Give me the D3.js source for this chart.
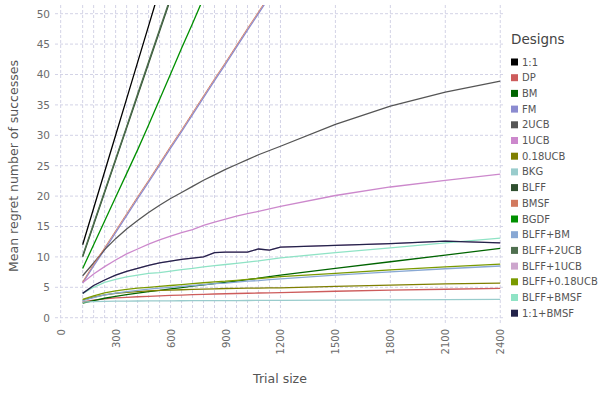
<!DOCTYPE html>
<html>
<head>
<meta charset="utf-8">
<script src="https://cdn.jsdelivr.net/npm/d3@7"></script>
<style>
  body { margin: 0; background: #fff; }
  text { font-family: "DejaVu Sans", Verdana, sans-serif; }
</style>
</head>
<body>
<script>
// trial sizes (x values)
var trialSizes = [120, 180, 240, 300, 360, 420, 480, 540, 600, 660, 720, 780, 840, 900, 960, 1020, 1080, 1140, 1200, 1500, 1800, 2100, 2400];

// mean regret per design
var oneToOne     = [12, 18, 24, 30, 36, 42, 48, 54, 60, 66, 72, 78, 84, 90, 96, 102, 108, 114, 120, 150, 180, 210, 240];
var dp           = [2.6, 2.9, 3.1, 3.25, 3.35, 3.45, 3.52, 3.6, 3.67, 3.73, 3.8, 3.85, 3.9, 3.94, 3.98, 4.02, 4.06, 4.1, 4.13, 4.35, 4.52, 4.68, 4.82];
var bm           = [2.4, 2.8, 3.2, 3.5, 3.8, 4.05, 4.3, 4.5, 4.75, 4.95, 5.2, 5.4, 5.6, 5.8, 6.0, 6.25, 6.5, 6.75, 7.0, 8.1, 9.2, 10.3, 11.4];
var fm           = [5.7, 8.5, 11.2, 14.0, 16.8, 19.6, 22.3, 25.1, 27.9, 30.6, 33.4, 36.2, 39.0, 41.7, 44.5, 47.3, 50.0, 52.8, 55.6, 69.5, 83.3, 97.2, 111.0];
var ucb2         = [6.9, 9.0, 11.2, 13.0, 14.6, 16.0, 17.3, 18.5, 19.6, 20.6, 21.6, 22.6, 23.5, 24.4, 25.2, 26.0, 26.8, 27.5, 28.2, 31.8, 34.8, 37.1, 38.9];
var ucb1         = [5.75, 7.2, 8.4, 9.5, 10.5, 11.3, 12.1, 12.8, 13.4, 14.0, 14.5, 15.2, 15.7, 16.2, 16.7, 17.1, 17.5, 17.9, 18.3, 20.1, 21.5, 22.6, 23.6];
var ucb018       = [2.9, 3.4, 3.75, 4.0, 4.15, 4.3, 4.4, 4.5, 4.55, 4.6, 4.65, 4.7, 4.75, 4.8, 4.82, 4.85, 4.88, 4.9, 4.92, 5.15, 5.35, 5.55, 5.7];
var bkg          = [2.55, 2.65, 2.7, 2.72, 2.74, 2.75, 2.76, 2.77, 2.78, 2.79, 2.8, 2.8, 2.81, 2.82, 2.82, 2.83, 2.84, 2.84, 2.85, 2.9, 2.93, 2.96, 3.0];
var blff         = [10.0, 15.3, 20.6, 25.9, 31.2, 36.5, 41.8, 47.1, 52.4, 57.7, 63.0, 68.3, 73.6, 78.9, 84.2, 89.6, 94.9, 100.2, 105.5, 132.0, 158.6, 185.1, 211.7];
var bmsf         = [5.9, 8.8, 11.5, 14.3, 17.1, 19.9, 22.6, 25.4, 28.2, 30.9, 33.7, 36.5, 39.3, 42.0, 44.8, 47.6, 50.3, 53.1, 55.9, 69.8, 83.6, 97.5, 111.3];
var bgdf         = [8.1, 12.0, 15.9, 19.8, 23.7, 27.6, 31.7, 35.9, 40.1, 44.3, 48.4, 52.6, 56.9, 61.1, 65.3, 69.5, 73.7, 77.9, 82.1, 103, 124, 145, 166];
var blffBm       = [2.8, 3.3, 3.75, 4.05, 4.3, 4.5, 4.7, 4.85, 5.0, 5.15, 5.3, 5.45, 5.6, 5.7, 5.85, 6.0, 6.1, 6.25, 6.4, 7.0, 7.55, 8.05, 8.5];
var blffUcb2     = [10.2, 15.5, 20.8, 26.1, 31.4, 36.8, 42.1, 47.4, 52.7, 58.0, 63.3, 68.6, 73.9, 79.2, 84.5, 89.9, 95.2, 100.5, 105.8, 132.3, 158.9, 185.4, 212.0];
var blffUcb1     = [4.0, 5.3, 6.2, 7.0, 7.6, 8.1, 8.6, 9.0, 9.3, 9.6, 9.8, 10.0, 10.7, 10.8, 10.8, 10.8, 11.3, 11.1, 11.6, 11.9, 12.2, 12.6, 12.3];
var blffUcb018   = [3.0, 3.6, 4.1, 4.4, 4.65, 4.85, 5.0, 5.15, 5.3, 5.45, 5.6, 5.75, 5.9, 6.0, 6.15, 6.3, 6.45, 6.6, 6.75, 7.3, 7.85, 8.35, 8.8];
var blffBmsf     = [4.0, 5.0, 5.8, 6.3, 6.7, 7.0, 7.3, 7.4, 7.65, 7.9, 8.1, 8.35, 8.55, 8.75, 8.95, 9.15, 9.35, 9.6, 9.85, 10.7, 11.5, 12.3, 13.1];
var oneToOneBmsf = [4.0, 5.3, 6.2, 7.0, 7.6, 8.1, 8.6, 9.0, 9.3, 9.6, 9.8, 10.0, 10.7, 10.8, 10.8, 10.8, 11.3, 11.1, 11.6, 11.9, 12.2, 12.6, 12.3];

var designNames = ["1:1", "DP", "BM", "FM", "2UCB", "1UCB", "0.18UCB", "BKG", "BLFF", "BMSF", "BGDF",
                   "BLFF+BM", "BLFF+2UCB", "BLFF+1UCB", "BLFF+0.18UCB", "BLFF+BMSF", "1:1+BMSF"];
var designColors = ["#000000", "#cd5c5c", "#006400", "#8b8bd0", "#555555", "#cc88cc", "#7f7f00", "#99cccc",
                    "#2f4f2f", "#d27a5f", "#009000", "#88a8d4", "#4f6f4f", "#cda6cd", "#7a9a00", "#8fe3c5", "#23234a"];
var designValues = [oneToOne, dp, bm, fm, ucb2, ucb1, ucb018, bkg, blff, bmsf, bgdf,
                    blffBm, blffUcb2, blffUcb1, blffUcb018, blffBmsf, oneToOneBmsf];

var xTicks = [0, 300, 600, 900, 1200, 1500, 1800, 2100, 2400];
var yTicks = [0, 5, 10, 15, 20, 25, 30, 35, 40, 45, 50];
var xGrid = [0].concat(trialSizes);

var width = 598, height = 399;
var plotLeft = 55, plotRight = 505, plotTop = 5, plotBottom = 325;

var svg = d3.select("body").append("svg")
    .attr("width", width)
    .attr("height", height);

var x = d3.scaleLinear().domain([-31, 2426]).range([plotLeft, plotRight]);
var y = d3.scaleLinear().domain([-1.2, 51.43]).range([plotBottom, plotTop]);

// grid
svg.append("g").selectAll("line").data(yTicks).enter().append("line")
    .attr("x1", plotLeft).attr("x2", plotRight)
    .attr("y1", function(d) { return y(d); }).attr("y2", function(d) { return y(d); })
    .attr("stroke", "#d3d3e6").attr("stroke-width", 1).attr("stroke-dasharray", "3,2");

svg.append("g").selectAll("line").data(xGrid).enter().append("line")
    .attr("x1", function(d) { return x(d); }).attr("x2", function(d) { return x(d); })
    .attr("y1", plotTop).attr("y2", plotBottom)
    .attr("stroke", "#d3d3e6").attr("stroke-width", 1).attr("stroke-dasharray", "3,2");

// axes (labels only)
var xAxis = d3.axisBottom(x).tickValues(xTicks).tickSize(0).tickPadding(0).tickFormat(d3.format("d"));
var gx = svg.append("g").attr("transform", "translate(0," + plotBottom + ")").call(xAxis);
gx.select(".domain").remove();
gx.selectAll("text")
    .attr("transform", "rotate(-90)")
    .attr("x", -4).attr("y", 0).attr("dy", "0.35em")
    .style("text-anchor", "end")
    .attr("fill", "#6b6b6b").style("font-size", "10px");

var yAxis = d3.axisLeft(y).tickValues(yTicks).tickSize(0).tickPadding(5);
var gy = svg.append("g").attr("transform", "translate(" + plotLeft + ",0)").call(yAxis);
gy.select(".domain").remove();
gy.selectAll("text").attr("fill", "#6b6b6b").style("font-size", "10.5px");

// lines
svg.append("clipPath").attr("id", "plotclip").append("rect")
    .attr("x", plotLeft).attr("y", plotTop).attr("width", plotRight - plotLeft).attr("height", plotBottom - plotTop);

var line = d3.line()
    .x(function(d, i) { return x(trialSizes[i]); })
    .y(function(d) { return y(d); });

svg.append("g").attr("clip-path", "url(#plotclip)")
    .selectAll("path").data(designValues).enter().append("path")
    .attr("d", line)
    .attr("fill", "none")
    .attr("stroke", function(d, i) { return designColors[i]; })
    .attr("stroke-width", function(d, i) { return designNames[i] == "BMSF" ? 0.9 : 1.3; });

// titles
svg.append("text")
    .attr("x", 280).attr("y", 383)
    .attr("text-anchor", "middle")
    .attr("fill", "#555").style("font-size", "12.5px")
    .text("Trial size");

svg.append("text")
    .attr("transform", "translate(18,166) rotate(-90)")
    .attr("text-anchor", "middle")
    .attr("fill", "#555").style("font-size", "12.5px")
    .text("Mean regret number of successes");

// legend
var legend = svg.append("g").attr("transform", "translate(511,0)");
legend.append("text").attr("x", 0).attr("y", 44)
    .attr("fill", "#444").style("font-size", "13.5px")
    .text("Designs");

var item = legend.selectAll(".item").data(designNames).enter().append("g")
    .attr("transform", function(d, i) { return "translate(0," + (62 + i * 15.7) + ")"; });
item.append("rect")
    .attr("x", 0).attr("y", -3.5).attr("width", 7).attr("height", 7)
    .attr("fill", function(d, i) { return designColors[i]; });
item.append("text")
    .attr("x", 11).attr("y", 0).attr("dy", "0.35em")
    .attr("fill", "#555").style("font-size", "10px")
    .text(function(d) { return d; });
</script>
</body>
</html>
